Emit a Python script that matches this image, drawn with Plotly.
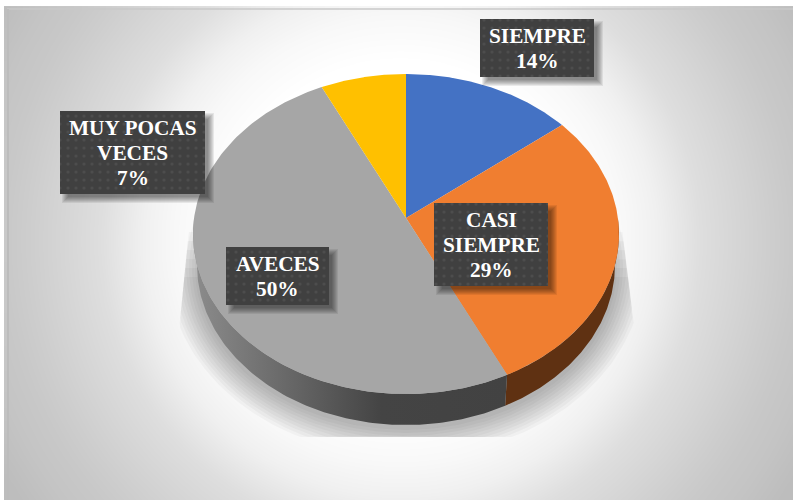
import numpy as np
import plotly.graph_objects as go

# Data
categories = [["SIEMPRE"], ["CASI", "SIEMPRE"], ["AVECES"], ["MUY POCAS", "VECES"]]
counts = [2, 4, 7, 1]

# Styles
top_colors = ["#4472c4", "#f07e30", "#a6a6a6", "#ffc000"]
side_colors = ["#2a4474", "#5f3112", "#444444", "#7f6000"]
label_boxes = [(480, 594, 19, 77), (434, 548, 203, 286), (226, 329, 247, 305), (60, 205, 111, 194)]

# Projection of the tilted disc
CX, CY, RX, RY = 406.0, 234.0, 213.0, 160.0
BX, BY, BRX, BRY = 406.0, 265.0, 209.0, 160.0
A = 0.1


def project(theta):
    u, v = np.sin(theta), np.cos(theta)
    d = 1 + A * v
    return CX + RX * u * np.sqrt(1 - A * A) / d, CY - RY * (v + A) / d


def project_bottom(theta):
    u, v = np.sin(theta), np.cos(theta)
    d = 1 + A * v
    return BX + BRX * u * np.sqrt(1 - A * A) / d, BY - BRY * (v + A) / d


def poly(x, y, **kw):
    kw.setdefault("line", dict(width=0))
    return go.Scatter(x=list(x), y=list(y), mode="lines", fill="toself", hoverinfo="skip", showlegend=False, **kw)


fig = go.Figure()

# Chart background: circular gradient
gx = np.linspace(7, 793, 132)
gy = np.linspace(9, 500, 84)
gd = np.hypot(*np.meshgrid(gx - 400, gy - 240))
gz = np.interp(gd, [0, 180, 225, 257, 300, 372, 396, 425, 460],
               [255, 255, 248, 240, 222, 205, 200, 196, 189])
fig.add_trace(go.Heatmap(x=gx, y=gy, z=gz, zmin=0, zmax=255, zsmooth="best", showscale=False, hoverinfo="skip",
                         colorscale=[[0, "#000000"], [1, "#ffffff"]]))
fig.add_shape(type="line", x0=7, x1=793, y0=9, y1=9, line=dict(color="#c8c8c8", width=1.5), layer="above")
fig.add_shape(type="line", x0=8, x1=8, y0=9, y1=500, line=dict(color="#bcbcbc", width=2), layer="above")

# Soft cast shadow, cut off as in the reference
t = np.linspace(0, 2 * np.pi, 240)
for k in range(2, 32, 3):
    x = BX + (BRX + k) * np.sin(t)
    y = BY + 3 - (BRY + k) * np.cos(t)
    y = np.clip(y, 190 + k * 3, 437)
    left = 193 - (y - 188) * 13 / 132
    right = 617 + (y - 188) * 14 / 112
    x = np.clip(x, left, right)
    fig.add_trace(poly(x, y, fillcolor="rgba(0,0,0,0.03)"))

# Slices from the values
frac = np.array(counts, dtype=float) / sum(counts)
edges = np.concatenate([[0], np.cumsum(frac)]) * 2 * np.pi

# Side wall
for i in range(len(counts)):
    a, b = max(edges[i], np.pi * 0.5), min(edges[i + 1], np.pi * 1.5)
    if b <= a:
        continue
    th = np.linspace(a, b, 120)
    xt, yt = project(th)
    xb, yb = project_bottom(th)
    xs = np.concatenate([xt, xb[::-1], xt[:1]])
    ys = np.concatenate([yt, yb[::-1], yt[:1]])
    if i == 2:
        fig.add_trace(poly(xs, ys, fillgradient=dict(type="horizontal",
                      colorscale=[[0, "#8c8c8c"], [0.6, "#444444"], [1, "#424242"]])))
    else:
        fig.add_trace(poly(xs, ys, fillcolor=side_colors[i]))

# Top face
ax, ay = CX, CY - RY * A
for i in range(len(counts)):
    th = np.linspace(edges[i], edges[i + 1], 160)
    xt, yt = project(th)
    fig.add_trace(poly(np.concatenate([[ax], xt, [ax]]), np.concatenate([[ay], yt, [ay]]), fillcolor=top_colors[i]))

# Data labels
LINE_STEP = 24.6
for name, f, (x0, x1, y0, y1) in zip(categories, frac, label_boxes):
    for k in range(1, 8):
        fig.add_trace(poly([x0 + 9 - k, x1 + 2 + k, x1 + 2 + k, x0 + 9 - k, x0 + 9 - k],
                           [y0 + 9 - k, y0 + 9 - k, y1 + 2 + k, y1 + 2 + k, y0 + 9 - k],
                           fillcolor="rgba(0,0,0,0.075)"))
    fig.add_trace(poly([x0, x1, x1, x0, x0], [y0, y0, y1, y1, y0],
                       fillcolor="#404040",
                       fillpattern=dict(shape=".", bgcolor="#404040", fgcolor="#5a5a5a", size=8, solidity=0.12)))
    lines = name + [f"{round(f * 100)}%"]
    for j, line in enumerate(lines):
        fig.add_annotation(x=(x0 + x1) / 2, y=(y0 + y1) / 2 + 0.5 + (j - (len(lines) - 1) / 2) * LINE_STEP,
                           xref="x", yref="y", showarrow=False, text=f"<b>{line}</b>",
                           font=dict(family="Liberation Serif", size=21.3, color="#ffffff"))

fig.update_layout(width=793, height=500, margin=dict(l=0, r=0, t=0, b=0),
                  paper_bgcolor="#ffffff", plot_bgcolor="#ffffff", showlegend=False,
                  xaxis=dict(range=[0, 793], visible=False, fixedrange=True),
                  yaxis=dict(range=[500, 0], visible=False, fixedrange=True))
fig.write_html("out.html", config=dict(displayModeBar=False),
               post_script="document.body.style.margin='0';")
